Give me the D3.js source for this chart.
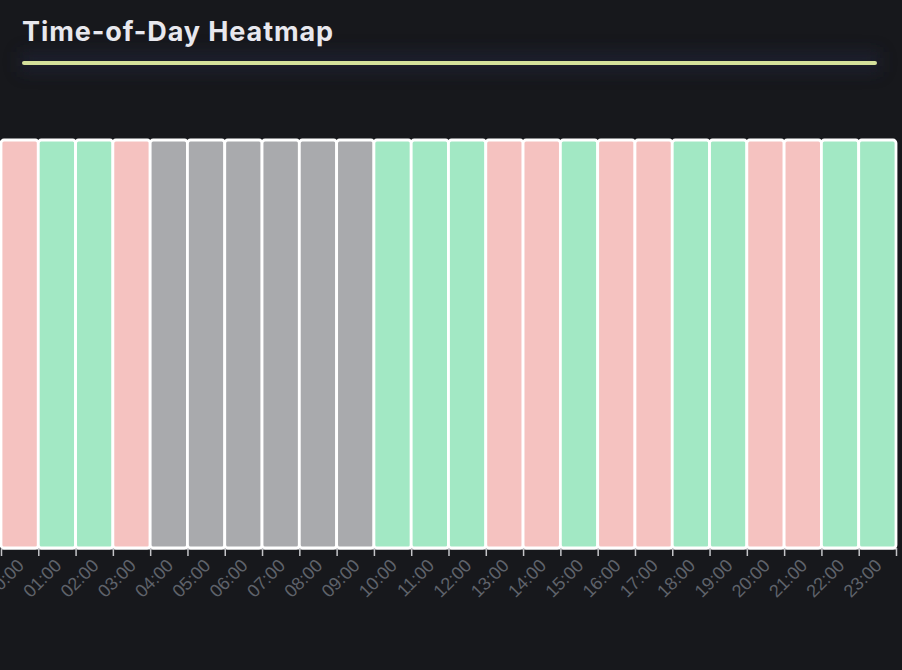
<!DOCTYPE html>
<html>
<head>
<meta charset="utf-8">
<script src="https://cdn.jsdelivr.net/npm/d3@7"></script>
<style>
  body { margin: 0; background: #17181c; }
  svg { display: block; }
</style>
</head>
<body>
<div class="heatmap"></div>
<script>
// hour buckets and their state
const hours = ["00:00","01:00","02:00","03:00","04:00","05:00","06:00","07:00","08:00","09:00","10:00","11:00",
               "12:00","13:00","14:00","15:00","16:00","17:00","18:00","19:00","20:00","21:00","22:00","23:00"];
const states = ["down","up","up","down","none","none","none","none","none","none","up","up",
                "up","down","down","up","down","down","up","up","down","down","up","up"];
const stateNames = ["up","down","none"];
const stateColors = ["#a2e8c4","#f5c2c0","#a9aaad"];

const width = 902;
const height = 670;
const svg = d3.select('.heatmap')
  .append('svg')
  .attr('width', width)
  .attr('height', height);

// header glow
const defs = svg.append('defs');
defs.append('filter').attr('id', 'glow')
  .attr('x', '-10%').attr('y', '-200%').attr('width', '120%').attr('height', '500%')
  .append('feGaussianBlur').attr('stdDeviation', 8);

svg.append('rect')
  .attr('x', 20).attr('y', 52).attr('width', 860).attr('height', 20)
  .attr('fill', '#222540').attr('opacity', 0.5)
  .attr('filter', 'url(#glow)');

svg.append('text')
  .text('Time-of-Day Heatmap')
  .attr('x', 22)
  .attr('y', 41)
  .attr('fill', '#e8e8ee')
  .attr('font-family', 'Inter, sans-serif')
  .attr('font-weight', 700)
  .attr('font-size', 27)
  .attr('letter-spacing', 0.9);

svg.append('line')
  .attr('x1', 24).attr('x2', 875)
  .attr('y1', 63).attr('y2', 63)
  .attr('stroke', '#d4e09b')
  .attr('stroke-width', 4)
  .attr('stroke-linecap', 'round');

const cellTop = 140, cellBottom = 548;
const parseHour = d3.timeParse('%H:%M');
const t0 = parseHour(hours[0]);
const t1 = d3.timeHour.offset(t0, hours.length);

const x = d3.scaleTime()
  .domain([t0, t1])
  .range([1, 896]);

const color = d3.scaleOrdinal()
  .domain(stateNames)
  .range(stateColors);

svg.selectAll('rect.cell')
  .data(hours)
  .enter()
  .append('rect')
  .attr('class', 'cell')
  .attr('x', function(d) { return x(parseHour(d)); })
  .attr('y', cellTop)
  .attr('width', function(d) {
    const a = parseHour(d);
    return x(d3.timeHour.offset(a, 1)) - x(a);
  })
  .attr('height', cellBottom - cellTop)
  .attr('rx', 3)
  .attr('fill', function(d, i) { return color(states[i]); })
  .attr('stroke', '#ffffff')
  .attr('stroke-width', 2.8);

const fmt = d3.timeFormat('%H:%M');
const axis = svg.append('g')
  .attr('transform', `translate(0,${cellBottom})`)
  .call(d3.axisBottom(x)
    .ticks(d3.timeHour.every(1))
    .tickFormat(function(d) { return +d === +t1 ? '' : fmt(d); })
    .tickSize(8)
    .tickSizeOuter(0));

axis.select('.domain').attr('stroke', '#ffffff').attr('stroke-width', 2);
axis.selectAll('.tick line').attr('stroke', '#c4c4c8').attr('stroke-width', 1.5);
axis.selectAll('.tick text')
  .attr('fill', '#5f636b')
  .attr('font-family', '"Liberation Sans", Arial, sans-serif')
  .attr('font-size', 18)
  .style('text-anchor', 'end')
  .attr('y', 30)
  .attr('dy', 0)
  .attr('dx', 3.5)
  .attr('transform', 'rotate(-45)');
</script>
</body>
</html>
